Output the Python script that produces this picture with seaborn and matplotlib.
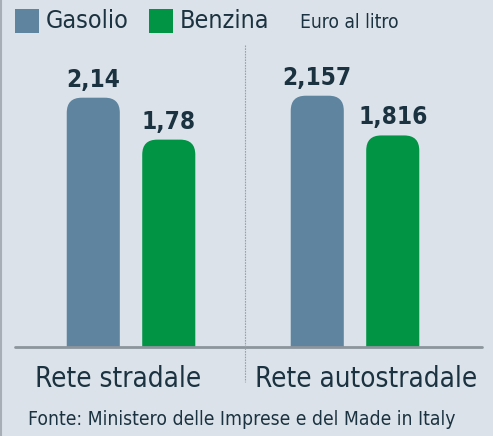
import matplotlib
matplotlib.use("Agg")
import matplotlib.pyplot as plt
from matplotlib.patches import FancyBboxPatch
from matplotlib import font_manager as fm
import seaborn as sns
import pandas as pd

categories = ["Rete stradale", "Rete autostradale"]
series = ["Gasolio", "Benzina"]
gasolio = [2.14, 2.157]
benzina = [1.78, 1.816]
labels_gasolio = ["2,14", "2,157"]
labels_benzina = ["1,78", "1,816"]
unit_label = "Euro al litro"
source = "Fonte: Ministero delle Imprese e del Made in Italy"

colors = {"Gasolio": "#5e84a0", "Benzina": "#009444"}
bg = "#dce2ea"
txt = "#1b3340"

names = {f.name for f in fm.fontManager.ttflist}
fam = "Liberation Sans Narrow" if "Liberation Sans Narrow" in names else "DejaVu Sans"
stretch = "normal" if fam == "Liberation Sans Narrow" else "condensed"

sns.set_style("white")
plt.rcParams["font.family"] = [fam, "DejaVu Sans"]

df = pd.DataFrame({
    "cat": categories * 2,
    "serie": [series[0]] * 2 + [series[1]] * 2,
    "val": gasolio + benzina,
})

fig = plt.figure(figsize=(4.93, 4.36), dpi=100, facecolor=bg)
W, H = 493, 436
base_px = 347
top_px = 40
ax = fig.add_axes([15 / W, 1 - base_px / H, (482 - 15) / W, (base_px - top_px) / H])
ax.set_facecolor(bg)

sns.barplot(data=df, x="cat", y="val", hue="serie", palette=colors,
            width=0.674, gap=0.297, ax=ax, legend=False, order=categories,
            hue_order=series, saturation=1)

ax.set_xlim(-0.518, 1.567)
ax.set_ylim(0, 307 / 116.5)
for s in ax.spines.values():
    s.set_visible(False)
ax.set_xticks([])
ax.set_yticks([])
ax.set_xlabel("")
ax.set_ylabel("")

fig.canvas.draw()
p0 = ax.transData.transform((0, 0))
p1 = ax.transData.transform((1, 1))
xpx = p1[0] - p0[0]
ypx = p1[1] - p0[1]
aspect = xpx / ypx
rad = 15 / xpx

patches = list(ax.patches)
for p in patches:
    x, y = p.get_x(), p.get_y()
    w, h = p.get_width(), p.get_height()
    fc = p.get_facecolor()
    p.set_visible(False)
    ext = 0.3
    fb = FancyBboxPatch((x, y - ext), w, h + ext,
                        boxstyle=f"round,pad=0,rounding_size={rad}",
                        mutation_aspect=aspect, facecolor=fc, edgecolor="none",
                        clip_on=True, zorder=2)
    ax.add_patch(fb)

lab_map = {}
for i, c in enumerate(categories):
    lab_map[(series[0], i)] = (labels_gasolio[i], gasolio[i])
    lab_map[(series[1], i)] = (labels_benzina[i], benzina[i])
for hi, sname in enumerate(series):
    for i in range(len(categories)):
        p = patches[hi * len(categories) + i]
        cx = p.get_x() + p.get_width() / 2
        lab, v = lab_map[(sname, i)]
        ax.annotate(lab, (cx, v), xytext=(0, 8), textcoords="offset points",
                    ha="center", va="baseline", fontsize=17.5, fontweight="bold",
                    fontstretch=stretch, color=txt, annotation_clip=False)

ax.axhline(0, color="#8c949c", lw=2, zorder=3, clip_on=False)

fig.add_artist(plt.Line2D([244.5 / W, 244.5 / W], [1 - 45 / H, 1 - 382 / H],
                          transform=fig.transFigure, color="#9aa0a8", lw=0.8,
                          ls=(0, (1.5, 1))))
fig.add_artist(plt.Line2D([1 / W, 1 / W], [0, 1], transform=fig.transFigure,
                          color="#a8aeb6", lw=1.5))

def fx(px):
    return px / W
def fy(py):
    return 1 - py / H

for c, cxp in zip(categories, [118.5, 366.5]):
    fig.text(fx(cxp), fy(379), c, ha="center", va="center", fontsize=20,
             color=txt, fontstretch=stretch)

for sname, (sx, tx) in zip(series, [(15, 46), (149, 180)]):
    fig.add_artist(plt.Rectangle((fx(sx), fy(33)), 24 / W, 24 / H,
                                 transform=fig.transFigure,
                                 facecolor=colors[sname], edgecolor="none"))
    fig.text(fx(tx), fy(21), sname, ha="left", va="center", fontsize=18,
             color=txt, fontstretch=stretch)
fig.text(fx(300), fy(22), unit_label, ha="left", va="center", fontsize=13.8,
         color=txt, fontstretch=stretch)

fig.text(fx(28), fy(419), source, ha="left", va="center", fontsize=13.9,
         color=txt, fontstretch=stretch)

fig.savefig("out.png", dpi=100, facecolor=bg)
